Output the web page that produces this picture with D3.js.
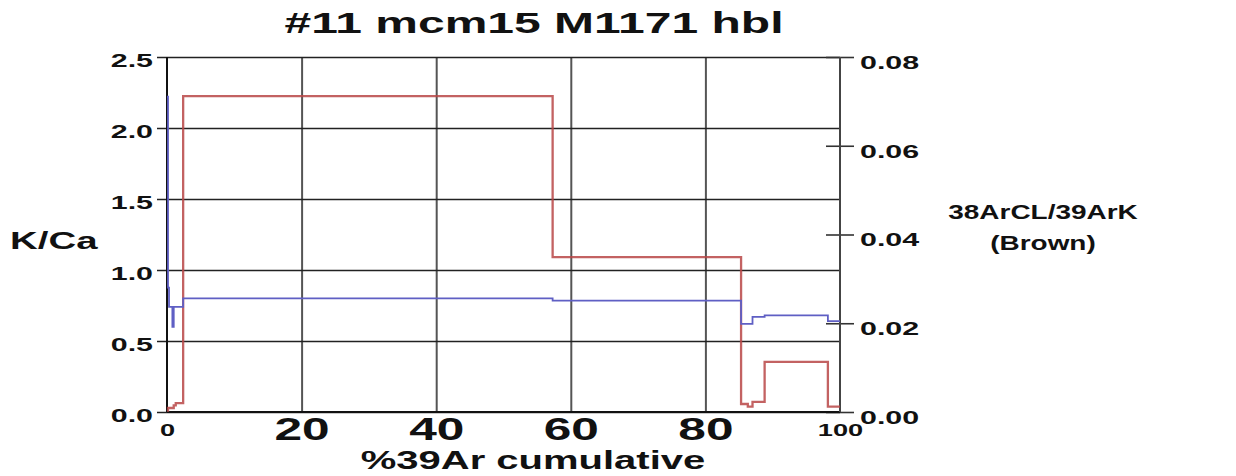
<!DOCTYPE html>
<html>
<head>
<meta charset="utf-8">
<script src="https://cdnjs.cloudflare.com/ajax/libs/d3/7.8.5/d3.min.js"></script>
<style>
    body { margin: 0; background: #fff; }
    svg text { font-family: "Liberation Sans", Arial, sans-serif; font-weight: bold; fill: #111; }
    .axis path { display: none; }
    .y-grid line { stroke: #222; stroke-width: 1.6; }
    .x-grid line { stroke: #555; stroke-width: 2; }
    .r-axis line { stroke: #333; stroke-width: 1.6; }
    .frame { stroke-width: 2; }
    .step { fill: none; }
</style>
</head>
<body>
<div id="chart"></div>
<script>

// heating steps: cumulative %39Ar at each step boundary
var stepEdges = [0, 0.15, 0.3, 0.8, 1.0, 1.3, 2.4, 57.3, 85.3, 86.3, 87.0, 88.8, 98.2, 100];
// K/Ca per step (left axis, blue)
var kCa = [2.22, 0.876, 0.74, 0.60, 0.74, 0.74, 0.80, 0.785, 0.62, 0.62, 0.67, 0.68, 0.64];
// 38ArCl/39ArK per step (right axis, brown)
var clK = [0.0003, 0.0009, 0.0009, 0.0009, 0.0015, 0.002, 0.0712, 0.0349, 0.0018, 0.0012, 0.0023, 0.0113, 0.0012];

var xTicks = [0, 20, 40, 60, 80, 100];
var kCaTicks = [0, 0.5, 1.0, 1.5, 2.0, 2.5];
var clKTicks = [0, 0.02, 0.04, 0.06, 0.08];

var title = "#11 mcm15 M1171 hbl";

StepVis = function(_parentElement) {
    this.parentElement = _parentElement;
    this.initVis();
};

StepVis.prototype.initVis = function() {
    var vis = this;

    vis.margin = { top: 57, right: 396, bottom: 64, left: 167 };
    vis.width = 1236 - vis.margin.left - vis.margin.right;
    vis.height = 476 - vis.margin.top - vis.margin.bottom;

    vis.root = d3.select("#" + vis.parentElement).append("svg")
        .attr("width", 1236)
        .attr("height", 476);

    vis.svg = vis.root.append("g")
        .attr("transform", "translate(" + vis.margin.left + "," + vis.margin.top + ")");

    vis.x = d3.scaleLinear().domain([0, 100]).range([0, vis.width]);
    vis.yL = d3.scaleLinear().domain([0, 2.5]).range([vis.height, 0]);
    vis.yR = d3.scaleLinear().domain([0, 0.08]).range([vis.height, 0]);

    // vertical grid + bottom labels
    var xg = vis.svg.append("g")
        .attr("class", "axis x-grid")
        .attr("transform", "translate(0," + vis.height + ")")
        .call(d3.axisBottom(vis.x).tickValues(xTicks).tickSize(-vis.height).tickPadding(6)
            .tickFormat(d3.format("d")));
    xg.selectAll("text").style("font-size", "31px");
    xg.selectAll(".tick")
        .filter(function(d) { return d === 0 || d === 100; })
        .select("text")
        .style("font-size", "17px")
        .attr("dy", "1.05em");
    xg.selectAll(".tick").filter(function(d) { return d === 0 || d === 100; })
        .select("line").remove();

    // horizontal grid + left labels
    var yg = vis.svg.append("g")
        .attr("class", "axis y-grid")
        .call(d3.axisLeft(vis.yL).tickValues(kCaTicks).tickSize(-vis.width).tickPadding(14)
            .tickFormat(d3.format(".1f")));
    yg.selectAll("line").attr("x1", -10);
    yg.selectAll("text").style("font-size", "19px").attr("dy", "0.5em");

    // right axis
    var rg = vis.svg.append("g")
        .attr("class", "axis r-axis")
        .attr("transform", "translate(" + vis.width + ",0)")
        .call(d3.axisRight(vis.yR).tickValues(clKTicks).tickSize(14).tickPadding(6)
            .tickFormat(d3.format(".2f")));
    rg.selectAll("line").attr("x1", -14);
    rg.selectAll("text").style("font-size", "19px").attr("dy", "0.6em");

    // frame lines
    vis.svg.append("line").attr("class", "frame")
        .attr("x1", 0).attr("x2", 0).attr("y1", 0).attr("y2", vis.height).attr("stroke", "#111");
    vis.svg.append("line").attr("class", "frame")
        .attr("x1", 0).attr("x2", vis.width).attr("y1", vis.height).attr("y2", vis.height).attr("stroke", "#111");
    vis.svg.append("line").attr("class", "frame")
        .attr("x1", vis.width).attr("x2", vis.width).attr("y1", 0).attr("y2", vis.height)
        .attr("stroke", "#444").attr("stroke-width", 2.5);

    vis.lineL = d3.line().curve(d3.curveStepAfter)
        .x(function(d) { return vis.x(d[0]); })
        .y(function(d) { return vis.yL(d[1]); });
    vis.lineR = d3.line().curve(d3.curveStepAfter)
        .x(function(d) { return vis.x(d[0]); })
        .y(function(d) { return vis.yR(d[1]); });

    vis.wrangleData();
};

StepVis.prototype.wrangleData = function() {
    var vis = this;

    function steps(vals) {
        var pts = vals.map(function(v, i) { return [stepEdges[i], v]; });
        pts.push([stepEdges[stepEdges.length - 1], vals[vals.length - 1]]);
        return pts;
    }
    vis.kCaData = steps(kCa);
    vis.clKData = steps(clK);

    vis.updateVis();
};

StepVis.prototype.updateVis = function() {
    var vis = this;

    vis.svg.append("path")
        .attr("class", "step")
        .datum(vis.clKData)
        .attr("d", vis.lineR)
        .attr("stroke", "#b94747")
        .attr("stroke-opacity", 0.85)
        .attr("stroke-width", 2.3);

    vis.svg.append("path")
        .attr("class", "step")
        .datum(vis.kCaData)
        .attr("d", vis.lineL)
        .attr("stroke", "#5f5fc4")
        .attr("stroke-width", 1.8);

    // titles
    vis.root.append("text").attr("x", 534).attr("y", 33)
        .attr("text-anchor", "middle").style("font-size", "30px").text(title);
    vis.root.append("text").attr("x", 533).attr("y", 469)
        .attr("text-anchor", "middle").style("font-size", "25px").text("%39Ar cumulative");
    vis.root.append("text").attr("x", 10).attr("y", 249)
        .style("font-size", "24px").text("K/Ca");

    var side = vis.root.append("g").attr("class", "side-label");
    side.append("text").attr("x", 1043).attr("y", 219)
        .attr("text-anchor", "middle").style("font-size", "21px").text("38ArCL/39ArK");
    side.append("text").attr("x", 1043).attr("y", 250)
        .attr("text-anchor", "middle").style("font-size", "21px").text("(Brown)");

    // the source picture is stretched sideways, so widen every text
    vis.root.selectAll("text").each(function() {
        var k = this.parentNode.getAttribute("class") === "side-label" ? 1.33 : 1.6;
        var w = this.getComputedTextLength();
        d3.select(this).attr("textLength", w * k).attr("lengthAdjust", "spacingAndGlyphs");
    });
};

new StepVis("chart");

</script>
</body>
</html>
